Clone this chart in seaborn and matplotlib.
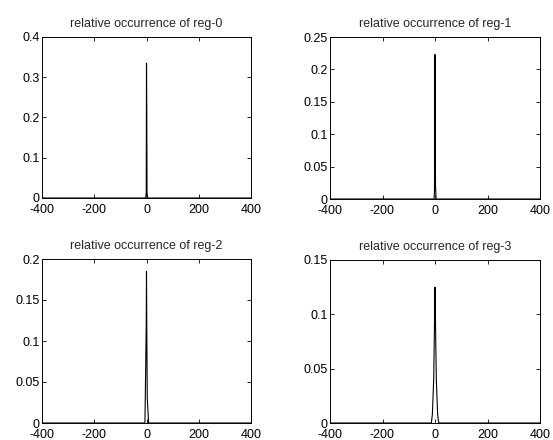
import matplotlib
matplotlib.use('Agg')
import matplotlib.pyplot as plt
import matplotlib.ticker as mticker
import numpy as np
import pandas as pd
import seaborn as sns

# offsets (x) and relative occurrence per region
x0 = [-400, -3, -2, -1, 0, 1, 2, 3, 400]
y0 = [0, 0, 0.005, 0.015, 0.335, 0.22, 0.015, 0, 0]

x1 = [-400, -4, -2, -1, 0, 1, 2, 4, 400]
y1 = [0, 0, 0.01, 0.115, 0.223, 0.115, 0.02, 0, 0]

x2 = [-400, -6, -3, -1, 0, 1, 3, 8, 400]
y2 = [0, 0, 0.07, 0.12, 0.185, 0.12, 0.03, 0, 0]

x3 = [-400, -14, -10, -5, -2, 0, 2, 5, 10, 14, 400]
y3 = [0, 0, 0.008, 0.04, 0.09, 0.125, 0.09, 0.04, 0.008, 0, 0]

titles = ['relative occurrence of reg-0', 'relative occurrence of reg-1',
          'relative occurrence of reg-2', 'relative occurrence of reg-3']
ymax = [0.4, 0.25, 0.2, 0.15]
ystep = [0.1, 0.05, 0.05, 0.05]

sns.set_style('ticks')
plt.rcParams['font.family'] = ['Liberation Sans', 'DejaVu Sans']
plt.rcParams['axes.unicode_minus'] = False

fig = plt.figure(figsize=(5.53, 4.4), dpi=100)
W, H = 553, 440
boxes = [(42, 37, 251, 198), (330, 37, 540, 199),
         (42, 259, 251, 423), (330, 260, 540, 423)]

data = [(x0, y0), (x1, y1), (x2, y2), (x3, y3)]
for i, ((xs, ys), (l, t, r, b)) in enumerate(zip(data, boxes)):
    ax = fig.add_axes([l / W, 1 - b / H, (r - l) / W, (b - t) / H])
    df = pd.DataFrame({'x': xs, 'y': ys})
    sns.lineplot(data=df, x='x', y='y', ax=ax, color='black', linewidth=0.8)
    ax.set_xlim(-400, 400)
    ax.set_ylim(0, ymax[i])
    ax.set_xticks([-400, -200, 0, 200, 400])
    ax.set_yticks(np.arange(0, ymax[i] + 1e-9, ystep[i]))
    ax.yaxis.set_major_formatter(mticker.FuncFormatter(lambda v, p: '%g' % round(v, 3)))
    ax.set_xlabel('')
    ax.set_ylabel('')
    ax.set_title(titles[i], fontsize=9, pad=7)
    ax.tick_params(direction='in', length=3, width=0.6, top=True, right=True,
                   labelsize=9, colors='black')
    ax.tick_params(axis='x', pad=4.5)
    ax.tick_params(axis='y', pad=1.5)
    for s in ax.spines.values():
        s.set_linewidth(0.7)
        s.set_color('black')

fig.savefig('out.png', dpi=100)
